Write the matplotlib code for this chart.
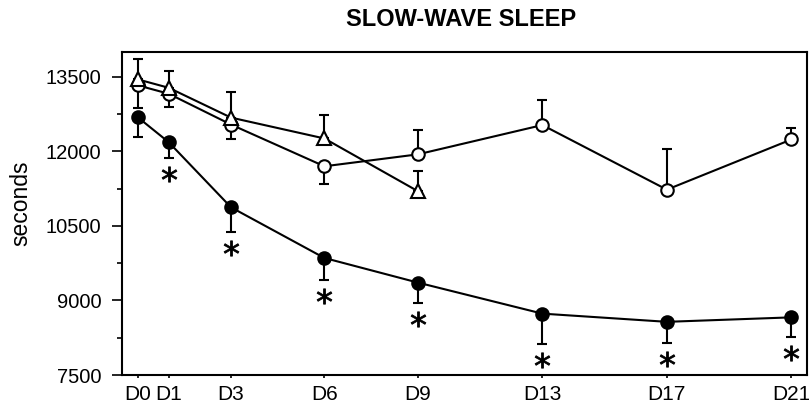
import matplotlib
matplotlib.use("Agg")
import matplotlib.pyplot as plt
import matplotlib.transforms as mtransforms
import numpy as np

plt.rcParams['font.family'] = ['Liberation Sans', 'DejaVu Sans']

# day of recording
days = [0, 1, 3, 6, 9, 13, 17, 21]
day_labels = ['D0', 'D1', 'D3', 'D6', 'D9', 'D13', 'D17', 'D21']

# open circles (controls)
ctrl = [13330, 13160, 12540, 11700, 11940, 12530, 11230, 12240]
ctrl_err_up = [0, 0, 0, 0, 500, 500, 820, 235]
ctrl_err_down = [455, 270, 300, 355, 0, 0, 0, 0]

# open triangles, only recorded up to D9
tri_days = [0, 1, 3, 6, 9]
tri = [13450, 13280, 12680, 12260, 11200]
tri_err_up = [418, 333, 520, 470, 400]
tri_err_down = [0, 0, 0, 0, 0]

# filled circles
treat = [12690, 12185, 10875, 9855, 9360, 8735, 8570, 8660]
treat_err_up = [0, 0, 0, 0, 0, 0, 0, 0]
treat_err_down = [395, 315, 500, 450, 415, 610, 425, 395]
signif = [False, True, True, True, True, True, True, True]

fig = plt.figure(figsize=(8.09, 4.11), dpi=100)
ax = fig.add_axes([122 / 809, 36 / 411, 685 / 809, 323 / 411])

lw = 1.5
common = dict(color='black', lw=lw, capsize=3.6, elinewidth=lw, capthick=lw,
              markeredgewidth=lw, markeredgecolor='black')

ax.errorbar(days, ctrl, yerr=[ctrl_err_down, ctrl_err_up], marker='o', ms=9,
            mfc='white', zorder=3, **common)
ax.errorbar(tri_days, tri, yerr=[tri_err_down, tri_err_up], marker='^', ms=10,
            mfc='white', zorder=4, **common)
ax.errorbar(days, treat, yerr=[treat_err_down, treat_err_up], marker='o', ms=9,
            mfc='black', zorder=5, **common)

# asterisks just under the lower error bar of the filled circles
star_tr = mtransforms.offset_copy(ax.transData, fig=fig, y=-16, units='dots')
sx = [d for d, s in zip(days, signif) if s]
sy = [v - e for v, e, s in zip(treat, treat_err_down, signif) if s]
ax.plot(sx, sy, ls='none', marker='$*$', ms=11, markeredgewidth=0.6,
        color='black', transform=star_tr, clip_on=False)

ax.set_xlim(-0.5, 21.5)
ax.set_ylim(7500, 14000)
ax.set_xticks(days)
ax.set_xticklabels(day_labels)
ax.set_yticks([7500, 9000, 10500, 12000, 13500])
ax.set_yticks(np.arange(8250, 14000, 1500), minor=True)

ax.tick_params(axis='y', which='major', length=7, width=1.2, pad=8, labelsize=14.5)
ax.tick_params(axis='y', which='minor', length=3.6, width=1.2)
ax.tick_params(axis='x', which='major', length=2.5, width=1.2, pad=5, labelsize=15)
for sp in ax.spines.values():
    sp.set_linewidth(1.5)

fig.text(21 / 809, 1 - 203 / 411, 'seconds', rotation=90, ha='center',
         va='center', fontsize=16.5)
fig.text(461 / 809, 1 - 20 / 411, 'SLOW-WAVE SLEEP', ha='center', va='center',
         fontsize=17, fontweight='bold')

fig.savefig('out.png', dpi=100)
